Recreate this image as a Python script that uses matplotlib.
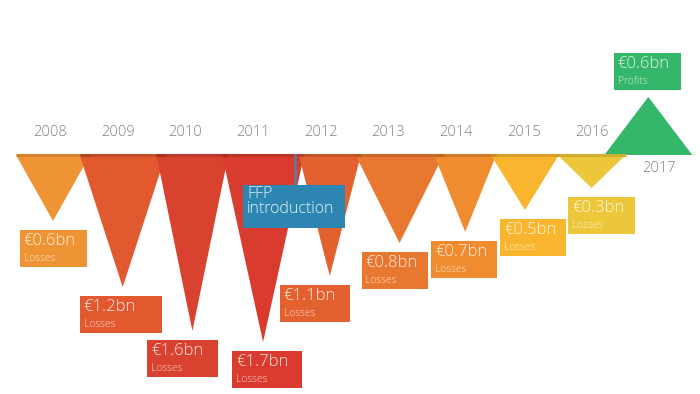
import matplotlib.pyplot as plt
from matplotlib.patches import Polygon, Rectangle

# data
years = ['2008', '2009', '2010', '2011', '2012', '2013', '2014', '2015', '2016', '2017']
values = [-0.6, -1.2, -1.6, -1.7, -1.1, -0.8, -0.7, -0.5, -0.3, 0.6]   # EUR bn, negative = losses
value_labels = ['€0.6bn', '€1.2bn', '€1.6bn', '€1.7bn', '€1.1bn', '€0.8bn', '€0.7bn', '€0.5bn', '€0.3bn', '€0.6bn']
kinds = ['Losses'] * 9 + ['Profits']

# layout / style
colors = ['#EF9434', '#E2592F', '#D8422F', '#D93C2E', '#E2612F', '#E8772F', '#F08C2F', '#FAB52E', '#EDC73A', '#34B76A']
PX_X = 67.7      # pixels per year
PX_Y = 110.0     # pixels per bn
half_w = [37, 43, 36, 41, 31, 44, 31, 34, 34, 44]          # px
apex_nudge = [3, 5, 7, 10, 9, 11, 9, 1, 0, -11]            # px
box_nudge = [0, -2, -10, 4, -15, -5, -1, 8, 10, -1]        # px
box_w = [67, 82, 71, 70, 70, 66, 66, 66, 67, 67]           # px

plt.rcParams['font.family'] = ['Open Sans', 'DejaVu Sans']

fig = plt.figure(figsize=(7, 3.94), dpi=100)
ax = fig.add_axes([0, 0, 1, 1])
ax.set_xlim(-50 / PX_X, 650 / PX_X)
ax.set_ylim(-(394 - 155) / PX_Y, 155 / PX_Y)
ax.axis('off')

for i, (yr, v) in enumerate(zip(years, values)):
    cx = i + apex_nudge[i] / PX_X
    hw = half_w[i] / PX_X
    # profit triangle drawn a bit flatter, as in the original
    tip = v if v < 0 else v * 0.88
    tri = Polygon([(cx - hw, 0), (cx + hw, 0), (cx, tip)], closed=True,
                  facecolor=colors[i], edgecolor='none', zorder=2 + i * 0.01)
    ax.add_patch(tri)
    if v < 0:
        ax.plot([cx - hw, cx + hw], [0, 0], color=colors[i], lw=2.2, zorder=3,
                solid_capstyle='butt')
        ax.plot([cx - hw, cx + hw], [0, 0], color='black', alpha=0.12, lw=2.2, zorder=3.1,
                solid_capstyle='butt')

    # value box
    bw = box_w[i] / PX_X
    bh = 37 / PX_Y
    bx = cx + box_nudge[i] / PX_X - bw / 2
    if v < 0:
        by_top = tip - 9 / PX_Y
    else:
        by_top = tip + 7 / PX_Y + bh
    ax.add_patch(Rectangle((bx, by_top - bh), bw, bh, facecolor=colors[i],
                           edgecolor='none', zorder=5))
    ax.text(bx + 4 / PX_X, by_top - 3 / PX_Y, value_labels[i], color='white', alpha=0.85,
            fontsize=12, fontweight='light', va='top', ha='left', zorder=6)
    ax.text(bx + 4 / PX_X, by_top - 23 / PX_Y, kinds[i], color='white', alpha=0.75,
            fontsize=7.5, fontweight='light', va='top', ha='left', zorder=6)

    # year label
    if v < 0:
        ax.text(i, 22 / PX_Y, yr, color='#808080', fontsize=10.5, fontweight='light',
                ha='center', va='center')
    else:
        ax.text(i, -13 / PX_Y, yr, color='#808080', fontsize=10.5, fontweight='light',
                ha='center', va='center')

# FFP introduction marker
ffp_x = (295 - 50) / PX_X
ax.plot([ffp_x, ffp_x], [0, -30 / PX_Y], color='#5B7E98', lw=2, zorder=6)
fx0 = (243 - 50) / PX_X
fx1 = (345 - 50) / PX_X
ax.add_patch(Rectangle((fx0, -(228 - 155) / PX_Y), fx1 - fx0, 43 / PX_Y,
                       facecolor='#2C86B1', edgecolor='none', zorder=7))
ax.text(fx0 + 4 / PX_X, -(186 - 155) / PX_Y, 'FFP\nintroduction', color='white', alpha=0.9,
        fontsize=11.5, fontweight='light', va='top', ha='left', linespacing=0.95, zorder=8)

fig.savefig('out.png', dpi=100)
